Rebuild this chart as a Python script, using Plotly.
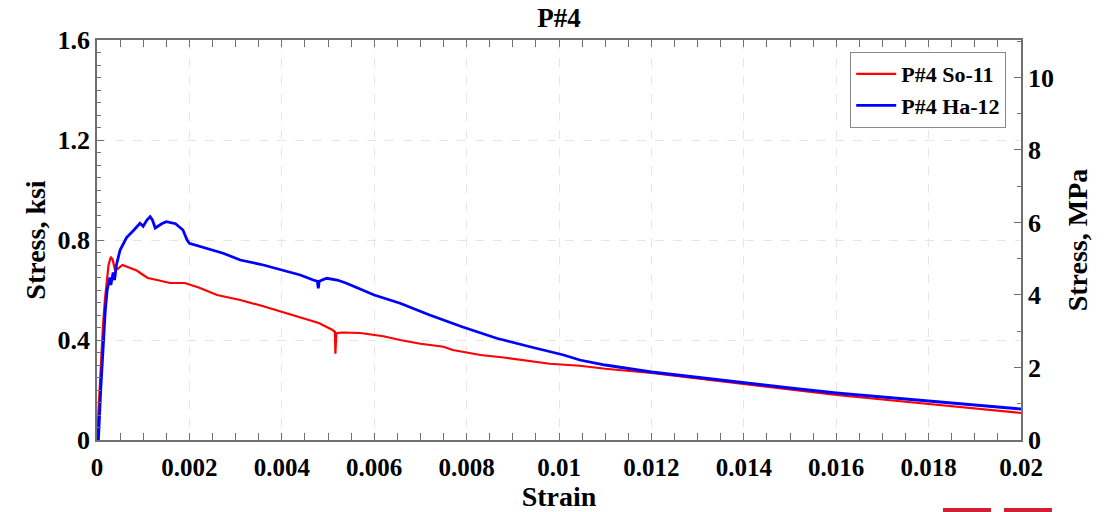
import plotly.graph_objects as go

# ---- data ----
so11_strain = [0, 0.00004, 0.00009, 0.00013, 0.00017, 0.00021, 0.00025, 0.0003, 0.00034, 0.00039,
               0.00045, 0.00055, 0.0007, 0.00086, 0.001, 0.0011, 0.0013, 0.00158, 0.0019, 0.0022,
               0.0026, 0.0031, 0.0036, 0.004, 0.0044, 0.0048, 0.0051, 0.00515, 0.00516, 0.00518,
               0.0053, 0.0057, 0.0062, 0.00656, 0.007, 0.0075, 0.0077, 0.0083, 0.0088, 0.0092,
               0.0098, 0.01045, 0.011, 0.012, 0.013, 0.014, 0.015, 0.016, 0.017, 0.018, 0.019, 0.02]
so11_stress = [0, 0.15, 0.33, 0.46, 0.56, 0.64, 0.70, 0.733, 0.72, 0.68,
               0.685, 0.70, 0.69, 0.678, 0.66, 0.648, 0.64, 0.628, 0.628, 0.61,
               0.58, 0.56, 0.535, 0.513, 0.49, 0.468, 0.44, 0.433, 0.345, 0.427,
               0.43, 0.428, 0.415, 0.40, 0.385, 0.373, 0.36, 0.34, 0.33, 0.32,
               0.305, 0.297, 0.285, 0.268, 0.246, 0.224, 0.202, 0.18, 0.162, 0.144, 0.125, 0.108]

ha12_strain = [0, 0.00003, 0.00008, 0.00013, 0.00018, 0.00022, 0.00025, 0.00028, 0.0003, 0.00035,
               0.00038, 0.00042, 0.0005, 0.00064, 0.0008, 0.00093, 0.001, 0.00108, 0.00115, 0.0012,
               0.00126, 0.0014, 0.0015, 0.0017, 0.00186, 0.00195, 0.002, 0.00237, 0.00273, 0.0031,
               0.0036, 0.004, 0.0044, 0.00468, 0.00477, 0.00479, 0.00481, 0.00497, 0.0052, 0.0054,
               0.006, 0.00656, 0.0072, 0.0079, 0.00865, 0.00937, 0.0101, 0.01045, 0.011, 0.012,
               0.013, 0.014, 0.015, 0.016, 0.017, 0.018, 0.019, 0.02]
ha12_stress = [0, 0, 0.2, 0.38, 0.52, 0.6, 0.63, 0.65, 0.62, 0.67,
               0.64, 0.70, 0.76, 0.81, 0.84, 0.867, 0.855, 0.88, 0.893, 0.88,
               0.848, 0.865, 0.873, 0.865, 0.84, 0.80, 0.787, 0.767, 0.747, 0.72,
               0.70, 0.68, 0.66, 0.64, 0.635, 0.607, 0.635, 0.647, 0.64, 0.627,
               0.58, 0.547, 0.50, 0.453, 0.407, 0.373, 0.34, 0.32, 0.30, 0.272,
               0.25, 0.228, 0.208, 0.188, 0.172, 0.156, 0.14, 0.124]

KSI_TO_MPA = 6.895
ksi_range = [0, 1.6]
mpa_ticks = [0, 2, 4, 6, 8, 10]

FONT = "Liberation Serif"
AX_COLOR = "#707070"
GRID = "#e6e6e6"

fig = go.Figure()
fig.add_trace(go.Scatter(x=so11_strain, y=so11_stress, mode="lines", name="P#4 So-11",
                         line=dict(color="#ff0000", width=2.2)))
fig.add_trace(go.Scatter(x=ha12_strain, y=ha12_stress, mode="lines", name="P#4 Ha-12",
                         line=dict(color="#0000ff", width=2.8)))
# helper trace so the MPa axis is drawn
fig.add_trace(go.Scatter(x=[0], y=[0], yaxis="y2", mode="markers", marker=dict(opacity=0),
                         showlegend=False, hoverinfo="skip"))

tickfont = dict(family=FONT, size=26, color="black", weight="bold")
xtickfont = dict(family=FONT, size=25, color="black", weight="bold")
titlefont = dict(family=FONT, size=28, color="black", weight="bold")

fig.update_layout(
    width=1116, height=512,
    margin=dict(l=97, r=95, t=40, b=72),
    paper_bgcolor="white", plot_bgcolor="white",
    title=dict(text="P#4", x=0.5, xref="paper", y=0.966, yanchor="middle",
               font=dict(family=FONT, size=27, color="black", weight="bold")),
    xaxis=dict(range=[0, 0.02], dtick=0.002, tick0=0, automargin=False,
               showline=True, linecolor=AX_COLOR, linewidth=1.5, mirror="allticks",
               ticks="inside", ticklen=7, tickcolor=AX_COLOR, tickwidth=1,
               minor=dict(dtick=0.0005, ticks="inside", ticklen=4, tickcolor=AX_COLOR, showgrid=False),
               showgrid=True, gridcolor=GRID, griddash="dash", gridwidth=1,
               zeroline=False, tickfont=xtickfont, ticklabelstandoff=4,
               title=dict(text="Strain", font=titlefont, standoff=1)),
    yaxis=dict(range=ksi_range, dtick=0.4, tick0=0, automargin=False,
               showline=True, linecolor=AX_COLOR, linewidth=1.5, mirror=False,
               ticks="inside", ticklen=7, tickcolor=AX_COLOR, tickwidth=1,
               minor=dict(dtick=0.05, ticks="inside", ticklen=4, tickcolor=AX_COLOR, showgrid=False),
               showgrid=True, gridcolor=GRID, griddash="dash", gridwidth=1,
               zeroline=False, tickfont=tickfont,
               title=dict(text="Stress, ksi", font=titlefont, standoff=4)),
    yaxis2=dict(overlaying="y", side="right", automargin=False,
                range=[ksi_range[0] * KSI_TO_MPA, ksi_range[1] * KSI_TO_MPA],
                tickvals=mpa_ticks,
                showline=True, linecolor=AX_COLOR, linewidth=1.5,
                ticks="inside", ticklen=7, tickcolor=AX_COLOR, tickwidth=1,
                minor=dict(dtick=1, ticks="inside", ticklen=4, tickcolor=AX_COLOR, showgrid=False),
                showgrid=False, zeroline=False, tickfont=tickfont,
                title=dict(text="Stress, MPa", font=titlefont, standoff=14)),
    legend=dict(x=0.984, y=0.97, xanchor="right", yanchor="top",
                bgcolor="white", bordercolor="#888888", borderwidth=1,
                font=dict(family=FONT, size=22, color="black", weight="bold"),
                itemwidth=40, tracegroupgap=0),
    showlegend=True,
)

# small red marks at the bottom-right edge of the picture
for x0, x1 in [(0.9156, 0.9675), (0.9816, 1.0335)]:
    fig.add_shape(type="rect", xref="paper", yref="paper", x0=x0, x1=x1, y0=-0.17, y1=-0.19,
                  fillcolor="#d21f35", line=dict(width=0), layer="above")

fig.write_html("out.html")
